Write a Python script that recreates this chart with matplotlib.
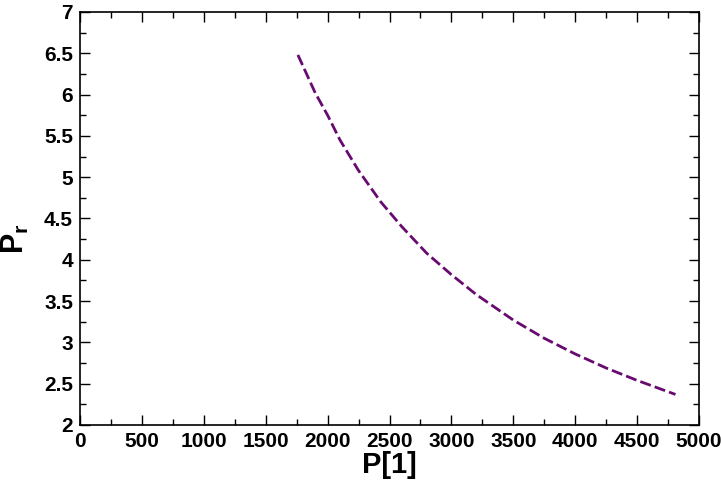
import matplotlib
matplotlib.use("Agg")
import matplotlib.pyplot as plt
from matplotlib.ticker import MultipleLocator

plt.rcParams["font.family"] = ["Liberation Sans", "DejaVu Sans"]
plt.rcParams["font.weight"] = "bold"
plt.rcParams["mathtext.fontset"] = "custom"
plt.rcParams["mathtext.rm"] = "Liberation Sans:bold"
plt.rcParams["mathtext.it"] = "Liberation Sans:bold"
plt.rcParams["mathtext.bf"] = "Liberation Sans:bold"

# curve
p1 = [1760, 1900, 2000, 2100, 2250, 2430, 2600, 2800, 3000, 3200,
      3500, 3750, 4000, 4250, 4500, 4810]
pr = [6.48, 6.02, 5.75, 5.45, 5.08, 4.70, 4.40, 4.08, 3.82, 3.58,
      3.27, 3.05, 2.86, 2.69, 2.54, 2.37]

fig = plt.figure(figsize=(7.21, 4.80), dpi=100)
ax = fig.add_axes([0.111, 0.1146, 0.8585, 0.8604])

ax.plot(p1, pr, color="#680a70", lw=2, dashes=(4, 1.5))

ax.set_xlim(0, 5000)
ax.set_ylim(2, 7)
ax.xaxis.set_major_locator(MultipleLocator(500))
ax.xaxis.set_minor_locator(MultipleLocator(250))
ax.yaxis.set_minor_locator(MultipleLocator(0.25))
ax.set_yticks([2, 2.5, 3, 3.5, 4, 4.5, 5, 5.5, 6, 6.5, 7])
ax.set_yticklabels(["2", "2.5", "3", "3.5", "4", "4.5", "5", "5.5", "6", "6.5", "7"])

ax.tick_params(which="both", direction="in", top=True, right=True,
               labelsize=15, width=1, pad=5)
ax.tick_params(which="major", length=7)
ax.tick_params(which="minor", length=4)
for s in ax.spines.values():
    s.set_linewidth(1.2)

ax.set_xlabel("P[1]", fontsize=21, fontweight="bold", labelpad=0)
ax.set_ylabel(r"$\mathrm{P}_\mathrm{r}$", fontsize=22)
ax.yaxis.set_label_coords(-0.08, 0.45)

fig.savefig("out.png", dpi=100)
